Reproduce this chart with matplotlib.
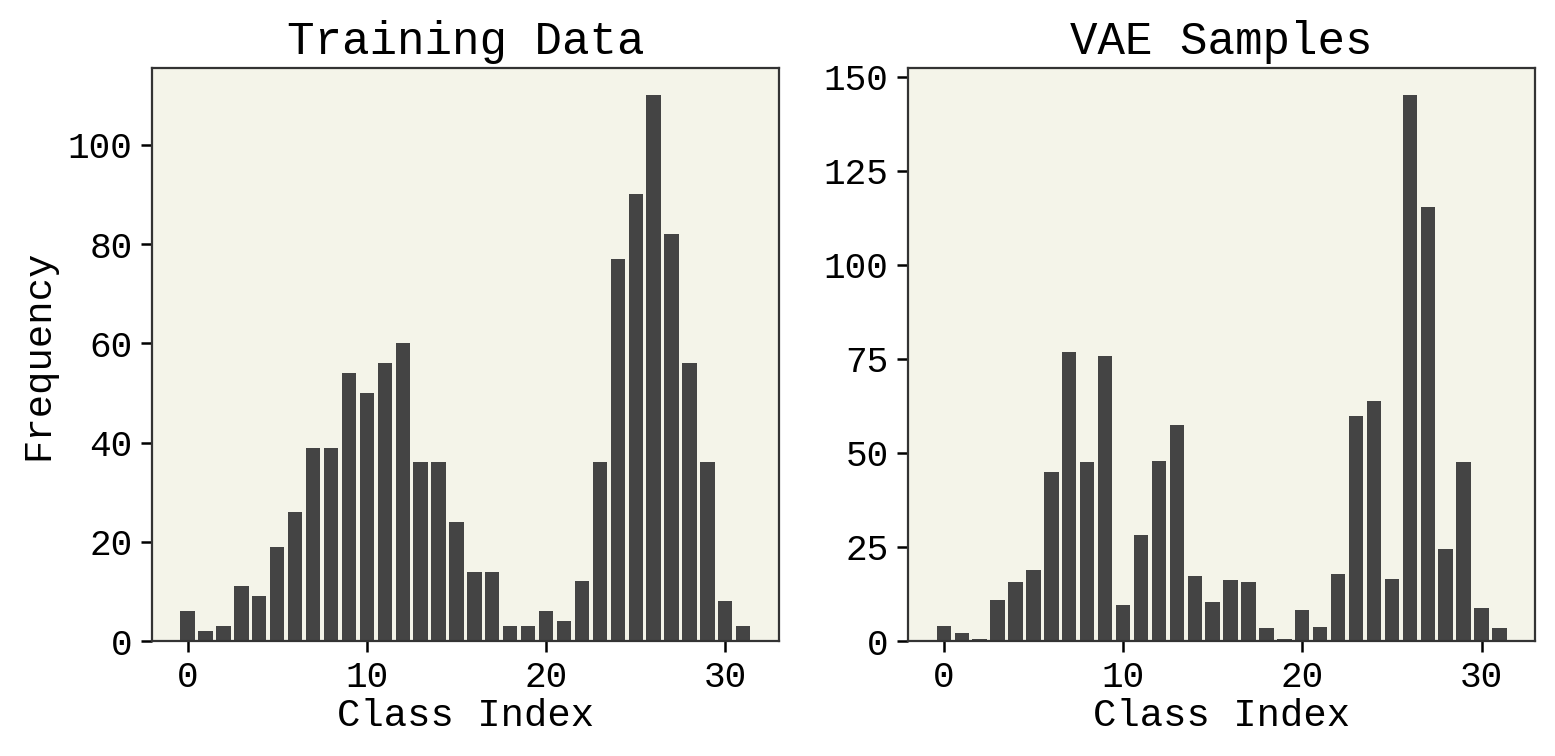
import matplotlib
matplotlib.use("Agg")
import matplotlib.pyplot as plt
import numpy as np

classes = list(range(32))
training_counts = [6, 2, 3, 11, 9, 19, 26, 39, 39, 54, 50, 56, 60, 36, 36, 24,
                   14, 14, 3, 3, 6, 4, 12, 36, 77, 90, 110, 82, 56, 36, 8, 3]
vae_counts = [3.9, 2.0, 0.6, 11.0, 15.6, 18.8, 44.9, 76.9, 47.5, 75.7, 9.7, 28.3,
              47.8, 57.4, 17.4, 10.3, 16.1, 15.8, 3.4, 0.6, 8.2, 3.6, 17.9, 59.8,
              63.8, 16.6, 145.1, 115.5, 24.4, 47.5, 8.7, 3.4]
titles = ["Training Data", "VAE Samples"]

plt.rcParams['font.family'] = ['Liberation Mono', 'DejaVu Sans Mono']
plt.rcParams['font.size'] = 13

fig = plt.figure(figsize=(7.775, 3.78), dpi=200)
ax1 = fig.add_axes([0.0977, 0.1521, 0.4032, 0.758])
ax2 = fig.add_axes([0.5840, 0.1521, 0.4032, 0.758])

for ax, data, title in zip([ax1, ax2], [training_counts, vae_counts], titles):
    ax.set_facecolor('#f4f4e9')
    ax.bar(classes, data, color='#444444', width=0.8)
    ax.set_title(title, fontsize=16.5, pad=5)
    ax.set_xlabel('Class Index', fontsize=14, labelpad=1)
    for s in ax.spines.values():
        s.set_color('#333333')
        s.set_linewidth(0.8)
    ax.tick_params(colors='black', labelsize=13, length=4, width=0.9, pad=3)

ax1.set_ylabel('Frequency', fontsize=14)
ax1.set_yticks([0, 20, 40, 60, 80, 100])
ax2.set_yticks([0, 25, 50, 75, 100, 125, 150])
ax1.set_xticks([0, 10, 20, 30])
ax2.set_xticks([0, 10, 20, 30])

fig.savefig('out.png', dpi=200)
